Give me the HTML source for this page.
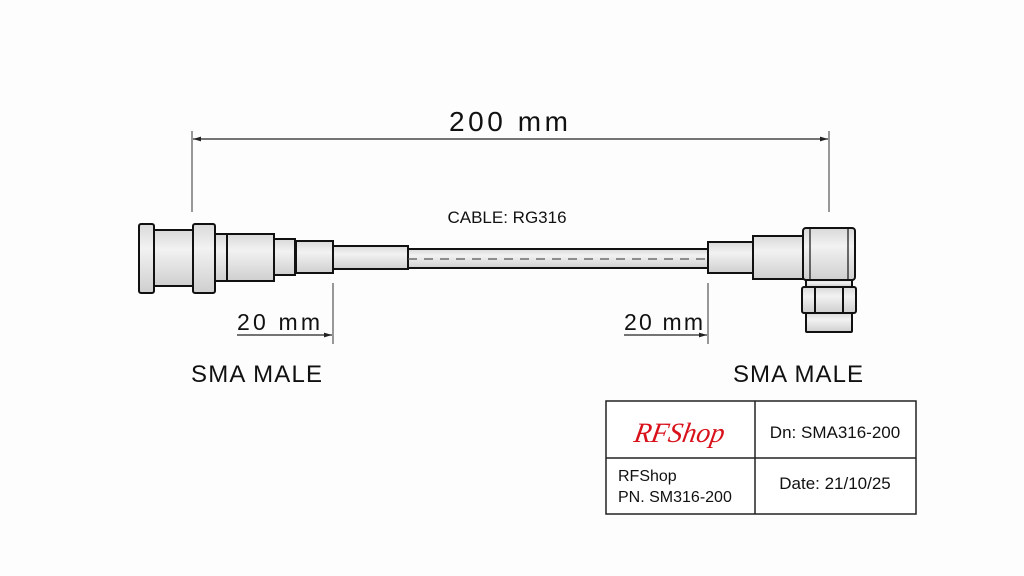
<!DOCTYPE html>
<html><head><meta charset="utf-8"><style>
body{margin:0;background:#fdfdfd}
svg{display:block}
text{font-family:"Liberation Sans",sans-serif;fill:#111}
</style></head><body>
<svg width="1024" height="576" viewBox="0 0 1024 576" xmlns="http://www.w3.org/2000/svg">
<defs>
<linearGradient id="g" x1="0" y1="0" x2="0" y2="1">
<stop offset="0" stop-color="#d9d9d9"/><stop offset="0.35" stop-color="#f2f2f2"/><stop offset="1" stop-color="#cfcfcf"/>
</linearGradient>
<marker id="a" viewBox="0 0 10 10" refX="10" refY="5" markerWidth="12" markerHeight="8" markerUnits="userSpaceOnUse" orient="auto-start-reverse"><path d="M0,2 L10,5 L0,8z" fill="#222"/></marker>
</defs>
<rect width="1024" height="576" fill="#fdfdfd"/>
<line x1="192" y1="131" x2="192" y2="212" stroke="#333" stroke-width="1"/>
<line x1="829" y1="131" x2="829" y2="212" stroke="#333" stroke-width="1"/>
<line x1="193" y1="139" x2="828" y2="139" stroke="#222" stroke-width="1.2" marker-start="url(#a)" marker-end="url(#a)"/>
<text x="449" y="131" font-size="28" textLength="119" lengthAdjust="spacing">200  mm</text>
<text x="507" y="223" font-size="17" text-anchor="middle">CABLE: RG316</text>
<g stroke="#111" stroke-width="2" fill="url(#g)">
<rect x="408" y="249" width="300" height="19"/>
<rect x="139" y="224" width="15" height="69" rx="2"/>
<rect x="154" y="230" width="40" height="56"/>
<rect x="193" y="224" width="22" height="69" rx="2"/>
<rect x="215" y="234" width="59" height="47"/>
<line x1="227" y1="234" x2="227" y2="281"/>
<rect x="274" y="239" width="21" height="36"/>
<rect x="296" y="241" width="37" height="32"/>
<rect x="333" y="246" width="75" height="23"/>
<rect x="708" y="242" width="45" height="31"/>
<rect x="753" y="236" width="50" height="43"/>
<rect x="806" y="280" width="46" height="7"/>
<rect x="802" y="287" width="54" height="26" rx="2"/>
<line x1="815" y1="287" x2="815" y2="313"/>
<line x1="843" y1="287" x2="843" y2="313"/>
<rect x="806" y="313" width="46" height="19" rx="1"/>
<rect x="803" y="228" width="52" height="52" rx="3"/>
<line x1="810" y1="228" x2="810" y2="280" stroke-width="1.2"/>
<line x1="848" y1="228" x2="848" y2="280" stroke-width="1.2"/>
</g>
<line x1="408" y1="259" x2="708" y2="259" stroke="#555" stroke-width="1.2" stroke-dasharray="9,7"/>
<line x1="333" y1="283" x2="333" y2="344" stroke="#333" stroke-width="1"/>
<line x1="237" y1="335" x2="332" y2="335" stroke="#222" stroke-width="1.2" marker-end="url(#a)"/>
<text x="237" y="330" font-size="23" textLength="83" lengthAdjust="spacing">20 mm</text>
<line x1="708" y1="283" x2="708" y2="344" stroke="#333" stroke-width="1"/>
<line x1="624" y1="335" x2="707" y2="335" stroke="#222" stroke-width="1.2" marker-end="url(#a)"/>
<text x="624" y="330" font-size="23" textLength="79" lengthAdjust="spacing">20 mm</text>
<text x="191" y="382" font-size="24" textLength="131" lengthAdjust="spacing">SMA MALE</text>
<text x="733" y="382" font-size="24" textLength="130" lengthAdjust="spacing">SMA MALE</text>
<rect x="606" y="401" width="310" height="113" fill="#fff" stroke="#222" stroke-width="1.5"/>
<line x1="755" y1="401" x2="755" y2="514" stroke="#222" stroke-width="1.5"/>
<line x1="606" y1="458" x2="916" y2="458" stroke="#222" stroke-width="1.5"/>
<text x="678" y="442" font-size="28" font-style="italic" text-anchor="middle" style="fill:#d8111b;font-family:'Liberation Serif',serif" transform="skewX(-10) translate(78,0)">RFShop</text>
<text x="835" y="438" font-size="17" text-anchor="middle">Dn: SMA316-200</text>
<text x="618" y="481" font-size="16">RFShop</text>
<text x="618" y="502" font-size="16">PN. SM316-200</text>
<text x="835" y="489" font-size="17" text-anchor="middle">Date: 21/10/25</text>
</svg>
</body></html>
